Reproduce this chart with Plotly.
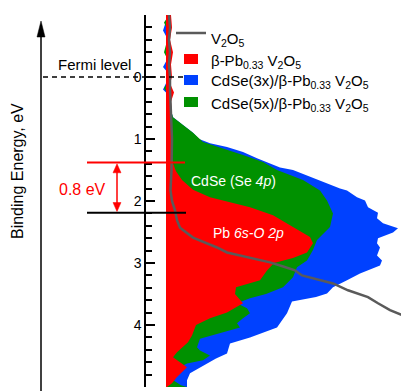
import plotly.graph_objects as go

# ---------------- data (binding energy in eV, intensity in arb. units) ----------------
series_names = [
    "V<sub>2</sub>O<sub>5</sub>",
    "β-Pb<sub>0.33</sub> V<sub>2</sub>O<sub>5</sub>",
    "CdSe(3x)/β-Pb<sub>0.33</sub> V<sub>2</sub>O<sub>5</sub>",
    "CdSe(5x)/β-Pb<sub>0.33</sub> V<sub>2</sub>O<sub>5</sub>",
]
series_colors = ["#5a5a5a", "#ff0000", "#0041ff", "#009100"]

e_v2o5 = [-1.0, -0.8, -0.6, -0.4, -0.2, 0.0, 0.2, 0.5, 1.0, 1.5, 1.83, 2.0, 2.15, 2.31, 2.43,
          2.59, 2.75, 2.83, 2.92, 2.99, 3.06, 3.12, 3.2, 3.33, 3.44, 3.55, 3.65, 3.76, 3.88, 4.0]
i_v2o5 = [3, 4, 3, 4, 3, 4, 4, 5, 6, 5.5, 4.5, 6, 9, 11, 14,
          27, 51, 61, 84, 104, 118, 129, 136, 167, 182, 202, 212, 224, 242, 262]

e_pb = [-1.0, -0.8, -0.6, -0.4, -0.2, 0.0, 0.1, 0.25, 0.4, 0.6, 0.9, 1.2, 1.39, 1.52, 1.66,
        1.82, 1.94, 2.1, 2.23, 2.42, 2.58, 2.68, 2.83, 2.92, 3.0, 3.12, 3.28, 3.39, 3.5, 3.65,
        3.8, 3.89, 4.0, 4.17, 4.28, 4.44, 4.52, 4.6, 4.68, 4.84, 4.94, 5.0]
i_pb = [5, 6, 4, 7, 5, 6, 4, 8, 5, 6, 6, 6, 7, 10, 16,
        27, 44, 84, 107, 127, 144, 147, 141, 127, 108, 101, 94, 70, 69, 77,
        61, 44, 30, 26, 22, 11, 7, 14, 21, 11, 6, 1]

e_cdse3 = [-1.0, -0.85, -0.75, -0.6, -0.4, -0.25, -0.16, -0.05, 0.1, 0.2, 0.3, 0.45, 0.54, 0.65,
           0.74, 0.9, 1.0, 1.07, 1.13, 1.21, 1.31, 1.39, 1.46, 1.5, 1.63, 1.7, 1.8, 1.83, 1.94,
           1.99, 2.1, 2.19, 2.28, 2.36, 2.44, 2.51, 2.6, 2.68, 2.75, 2.88, 2.96, 3.04, 3.1, 3.17,
           3.28, 3.39, 3.49, 3.55, 3.62, 3.81, 4.04, 4.2, 4.3, 4.46, 4.54, 4.68, 4.78, 4.89, 5.0]
i_cdse3 = [2, -1, -3, 2, 4, 0, -3, 3, 0, -3, 3, 5, 5, 7,
           14, 27, 33, 44, 61, 77, 91, 104, 114, 127, 147, 157, 174, 181, 191,
           199, 202, 212, 211, 217, 232, 227, 212, 211, 214, 211, 216, 214, 205, 194,
           181, 167, 161, 150, 126, 121, 111, 84, 64, 61, 50, 34, 24, 21, 21]

e_cdse5 = [-1.0, -0.88, -0.7, -0.5, -0.4, -0.2, 0.0, 0.1, 0.18, 0.3, 0.45, 0.54, 0.65, 0.74,
           0.9, 1.05, 1.15, 1.26, 1.37, 1.5, 1.66, 1.83, 1.99, 2.2, 2.42, 2.63, 2.79, 2.96, 3.07,
           3.23, 3.39, 3.5, 3.57, 3.65, 3.73, 3.81, 3.89, 3.97, 4.04, 4.14, 4.22, 4.36, 4.41,
           4.49, 4.57, 4.62, 4.68, 4.8, 4.9, 4.97, 5.0]
i_cdse5 = [3, -2, 3, 0, -2, 4, 3, 1, -2, 3, 4, 5, 7, 14,
           27, 37, 57, 77, 97, 111, 137, 154, 161, 167, 164, 151, 147, 141, 131,
           127, 117, 100, 84, 71, 81, 84, 77, 71, 74, 51, 34, 31, 34,
           44, 37, 21, 14, 10, 8, 15, 21]

fermi_level = 0.0
gap_levels = [1.38, 2.19]          # red and black marker levels (eV)
gap_label = "0.8 eV"
tick_vals = [-1, 0, 1, 2, 3, 4, 5]
tick_text = ["-1", "0", "1", "2", "3", "4", "5"]

# ---------------- geometry helpers (page pixels -> paper) ----------------
OFF = 8                      # default page margin around the figure div
W, H = 409 - OFF, 391 - OFF
L, R, T, B = 146 - OFF, 409 - OFF, 15 - OFF, 387 - OFF


def PX(px):
    return (px - OFF - L) / (R - L)


def PY(py):
    return (B - (py - OFF)) / (B - T)


FONT = "Liberation Sans, Arial, Helvetica, sans-serif"

fig = go.Figure()

# fills: blue (bottom), green, red (top), then the V2O5 line
fill_order = [(e_cdse3, i_cdse3, 2), (e_cdse5, i_cdse5, 3), (e_pb, i_pb, 1)]
for e, i, k in fill_order:
    fig.add_trace(go.Scatter(x=i, y=e, mode="lines", line=dict(width=0, color=series_colors[k]),
                             fill="tozerox", fillcolor=series_colors[k], name=series_names[k],
                             showlegend=False, hoverinfo="skip"))
fig.add_trace(go.Scatter(x=i_v2o5, y=e_v2o5, mode="lines",
                         line=dict(width=2.5, color=series_colors[0]),
                         name=series_names[0], showlegend=False))

shapes = []
annotations = []

# Fermi level dashed line
shapes.append(dict(type="line", xref="paper", yref="y", x0=PX(43), x1=PX(191),
                   y0=fermi_level, y1=fermi_level, line=dict(color="black", width=1.5, dash="5px,4px"),
                   layer="above"))
annotations.append(dict(text="Fermi level", xref="paper", yref="paper", x=PX(94), y=PY(64),
                        showarrow=False, font=dict(family=FONT, size=15, color="black"),
                        xanchor="center", yanchor="middle"))

# red / black level lines
shapes.append(dict(type="line", xref="paper", yref="y", x0=PX(87), x1=PX(185),
                   y0=gap_levels[0], y1=gap_levels[0], line=dict(color="#ff0000", width=2), layer="above"))
shapes.append(dict(type="line", xref="paper", yref="y", x0=PX(87), x1=PX(186),
                   y0=gap_levels[1], y1=gap_levels[1], line=dict(color="black", width=2), layer="above"))

# red double arrow
ax_px = 117
head_h = 9.0 / 62.0
shapes.append(dict(type="line", xref="paper", yref="y", x0=PX(ax_px), x1=PX(ax_px),
                   y0=gap_levels[0] + head_h, y1=gap_levels[1] - head_h,
                   line=dict(color="#ff0000", width=1.5), layer="above"))
for tip, base in [(gap_levels[0] + 0.02, gap_levels[0] + 0.02 + head_h),
                  (gap_levels[1] - 0.02, gap_levels[1] - 0.02 - head_h)]:
    path = "M {a},{t} L {b},{s} L {c},{s} Z".format(a=PX(ax_px), t=tip, b=PX(ax_px - 4), c=PX(ax_px + 4), s=base)
    shapes.append(dict(type="path", xref="paper", yref="y", path=path,
                       fillcolor="#ff0000", line=dict(color="#ff0000", width=0.5), layer="above"))
annotations.append(dict(text=gap_label, xref="paper", yref="y", x=PX(82),
                        y=(gap_levels[0] + gap_levels[1]) / 2 + 0.03,
                        showarrow=False, font=dict(family=FONT, size=16, color="#ff0000"),
                        xanchor="center", yanchor="middle"))

# big energy arrow on the left
shapes.append(dict(type="line", xref="paper", yref="paper", x0=PX(41), x1=PX(41),
                   y0=PY(400), y1=PY(34), line=dict(color="black", width=1.5)))
shapes.append(dict(type="path", xref="paper", yref="paper",
                   path="M {a},{t} L {b},{s} L {c},{s} Z".format(a=PX(41), t=PY(21), b=PX(37), c=PX(45), s=PY(37)),
                   fillcolor="black", line=dict(color="black", width=0.5)))
annotations.append(dict(text="Binding Energy, eV", xref="paper", yref="paper", x=PX(18), y=PY(171),
                        textangle=-90, showarrow=False, font=dict(family=FONT, size=16, color="black"),
                        xanchor="center", yanchor="middle"))

# in-plot labels
annotations.append(dict(text="CdSe (Se <i>4p</i>)", xref="x", yref="y", x=67, y=1.68, showarrow=False,
                        font=dict(family=FONT, size=14, color="white"), xanchor="center", yanchor="middle"))
annotations.append(dict(text="Pb <i>6s-O 2p</i>", xref="x", yref="y", x=82, y=2.51, showarrow=False,
                        font=dict(family=FONT, size=14, color="white"), xanchor="center", yanchor="middle"))

# manual legend
shapes.append(dict(type="line", xref="paper", yref="paper", x0=PX(176), x1=PX(206), y0=PY(33), y1=PY(33),
                   line=dict(color=series_colors[0], width=2.5)))
leg_rows = [37, 59, 80, 102]
for k, row in enumerate(leg_rows):
    if k > 0:
        shapes.append(dict(type="rect", xref="paper", yref="paper", x0=PX(184), x1=PX(198),
                           y0=PY(row - 5), y1=PY(row + 5),
                           fillcolor=series_colors[k], line=dict(width=0)))
    annotations.append(dict(text=series_names[k], xref="paper", yref="paper", x=PX(209), y=PY(row + 2),
                            showarrow=False, font=dict(family=FONT, size=15, color="black"),
                            xanchor="left", yanchor="middle"))

fig.update_layout(
    width=W, height=H,
    margin=dict(l=L, r=W - R, t=T, b=H - B, pad=0),
    paper_bgcolor="white", plot_bgcolor="white",
    showlegend=False,
    xaxis=dict(range=[-20, 243], visible=False, showgrid=False, zeroline=False),
    yaxis=dict(range=[5, -1], tickvals=tick_vals, ticktext=tick_text, ticks="inside", ticklen=9,
               tickwidth=1.5, tickcolor="black", showline=True, linecolor="black", linewidth=1.5,
               showgrid=False, zeroline=False, tickfont=dict(family=FONT, size=14, color="black"),
               minor=dict(dtick=0.2, ticks="inside", ticklen=6, tickwidth=1.5, tickcolor="black",
                          showgrid=False)),
    shapes=shapes, annotations=annotations,
)

fig.write_html("out.html")
